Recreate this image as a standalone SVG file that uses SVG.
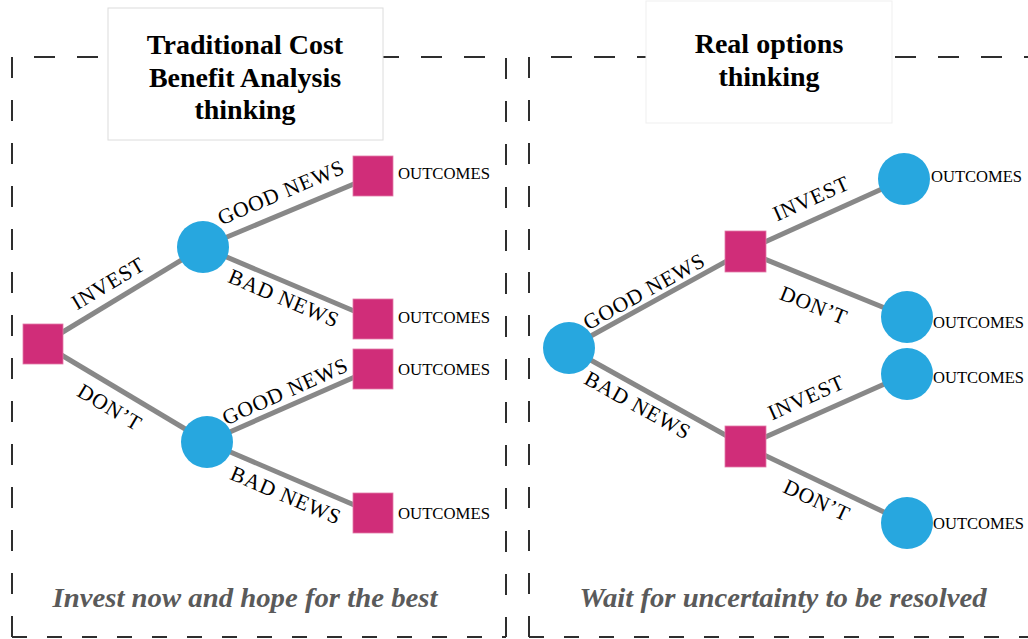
<svg xmlns="http://www.w3.org/2000/svg" width="1028" height="639" viewBox="0 0 1028 639">
<style>
.frame{fill:none;stroke:#2e2e2e;stroke-width:2;stroke-dasharray:21 22}
.frameb{fill:none;stroke:#2e2e2e;stroke-width:2;stroke-dasharray:15 20}
.title{fill:#ffffff;stroke:#dcdcdc;stroke-width:1}
.ttext{font-family:'Liberation Serif','Times New Roman','DejaVu Serif',serif;font-weight:bold;font-size:28px;fill:#000;text-anchor:middle}
.edge{stroke:#888888;stroke-width:5;fill:none}
.sq{fill:#D02D79;stroke:#e07aa8;stroke-width:0.8}
.ci{fill:#27A7DF}
.lbl{font-family:'Liberation Serif','Times New Roman','DejaVu Serif',serif;font-size:21.5px;letter-spacing:0.8px;fill:#000;text-anchor:middle}
.out{font-family:'Liberation Serif','Times New Roman','DejaVu Serif',serif;font-size:17px;fill:#000}
.cap{font-family:'Liberation Serif','Times New Roman','DejaVu Serif',serif;font-style:italic;font-weight:bold;font-size:27px;fill:#5a5a5a;text-anchor:middle}
</style>
<rect width="1028" height="639" fill="#ffffff"/>

<g id="frame-left">
<path class="frame" d="M12,637 V57 H506 V637"/>
<path class="frameb" d="M12,637 H506"/>
</g>
<g id="frame-right">
<path class="frame" d="M529,637 V57 H1040"/>
<path class="frameb" d="M529,637 H1040"/>
</g>

<g id="title-left">
<rect class="title" x="108" y="8" width="275" height="132"/>
<text class="ttext" x="245" y="54">Traditional Cost</text>
<text class="ttext" x="245" y="87">Benefit Analysis</text>
<text class="ttext" x="245" y="119">thinking</text>
</g>
<g id="title-right">
<rect x="646" y="1" width="246" height="122" fill="#ffffff" stroke="#efefef" stroke-width="1"/>
<text class="ttext" x="769" y="53">Real options</text>
<text class="ttext" x="769" y="86">thinking</text>
</g>

<g id="connectors">
<line class="edge" x1="43" y1="344" x2="203" y2="247"/>
<line class="edge" x1="43" y1="344" x2="207" y2="442"/>
<line class="edge" x1="203" y1="247" x2="373" y2="176"/>
<line class="edge" x1="203" y1="247" x2="373" y2="319"/>
<line class="edge" x1="207" y1="442" x2="373" y2="369"/>
<line class="edge" x1="207" y1="442" x2="373" y2="513"/>
<line class="edge" x1="569" y1="348" x2="745" y2="251"/>
<line class="edge" x1="569" y1="348" x2="745" y2="446"/>
<line class="edge" x1="745" y1="251" x2="904" y2="179"/>
<line class="edge" x1="745" y1="251" x2="907" y2="317"/>
<line class="edge" x1="745" y1="446" x2="907" y2="374"/>
<line class="edge" x1="745" y1="446" x2="907" y2="523"/>
<text class="lbl" transform="translate(108,283) rotate(-31)" dy="0.35em">INVEST</text>
<text class="lbl" transform="translate(110,407) rotate(31)" dy="0.35em">DON’T</text>
<text class="lbl" transform="translate(281,192) rotate(-23)" dy="0.35em">GOOD NEWS</text>
<text class="lbl" transform="translate(284,298) rotate(23)" dy="0.35em">BAD NEWS</text>
<text class="lbl" transform="translate(285,391) rotate(-24)" dy="0.35em">GOOD NEWS</text>
<text class="lbl" transform="translate(286,495) rotate(23)" dy="0.35em">BAD NEWS</text>
<text class="lbl" transform="translate(644,291) rotate(-29)" dy="0.35em">GOOD NEWS</text>
<text class="lbl" transform="translate(638,405) rotate(29)" dy="0.35em">BAD NEWS</text>
<text class="lbl" transform="translate(811,198) rotate(-24)" dy="0.35em">INVEST</text>
<text class="lbl" transform="translate(814,305) rotate(22)" dy="0.35em">DON’T</text>
<text class="lbl" transform="translate(806,397) rotate(-24)" dy="0.35em">INVEST</text>
<text class="lbl" transform="translate(817,500) rotate(25)" dy="0.35em">DON’T</text>
</g>

<g id="node-l-root"><rect class="sq" x="23" y="324" width="40" height="40"/></g>
<g id="node-l-chance1"><circle class="ci" cx="203" cy="247" r="26"/></g>
<g id="node-l-chance2"><circle class="ci" cx="207" cy="442" r="26"/></g>
<g id="node-l-out1"><rect class="sq" x="353" y="156" width="40" height="40"/><text class="out" x="398" y="179" textLength="92" lengthAdjust="spacingAndGlyphs">OUTCOMES</text></g>
<g id="node-l-out2"><rect class="sq" x="353" y="299" width="40" height="40"/><text class="out" x="398" y="323" textLength="92" lengthAdjust="spacingAndGlyphs">OUTCOMES</text></g>
<g id="node-l-out3"><rect class="sq" x="353" y="349" width="40" height="40"/><text class="out" x="398" y="375" textLength="92" lengthAdjust="spacingAndGlyphs">OUTCOMES</text></g>
<g id="node-l-out4"><rect class="sq" x="353" y="493" width="40" height="40"/><text class="out" x="398" y="519" textLength="92" lengthAdjust="spacingAndGlyphs">OUTCOMES</text></g>

<g id="node-r-root"><circle class="ci" cx="569" cy="348" r="26"/></g>
<g id="node-r-dec1"><rect class="sq" x="725" y="231" width="41" height="41"/></g>
<g id="node-r-dec2"><rect class="sq" x="725" y="426" width="41" height="41"/></g>
<g id="node-r-out1"><circle class="ci" cx="904" cy="179" r="26"/><text class="out" x="931" y="182" textLength="91" lengthAdjust="spacingAndGlyphs">OUTCOMES</text></g>
<g id="node-r-out2"><circle class="ci" cx="907" cy="317" r="26"/><text class="out" x="933" y="328" textLength="91" lengthAdjust="spacingAndGlyphs">OUTCOMES</text></g>
<g id="node-r-out3"><circle class="ci" cx="907" cy="374" r="26"/><text class="out" x="933" y="383" textLength="91" lengthAdjust="spacingAndGlyphs">OUTCOMES</text></g>
<g id="node-r-out4"><circle class="ci" cx="907" cy="523" r="26"/><text class="out" x="933" y="529" textLength="91" lengthAdjust="spacingAndGlyphs">OUTCOMES</text></g>

<g id="captions">
<text class="cap" x="245" y="607" textLength="385" lengthAdjust="spacingAndGlyphs">Invest now and hope for the best</text>
<text class="cap" x="783" y="607" textLength="407" lengthAdjust="spacingAndGlyphs">Wait for uncertainty to be resolved</text>
</g>
</svg>
